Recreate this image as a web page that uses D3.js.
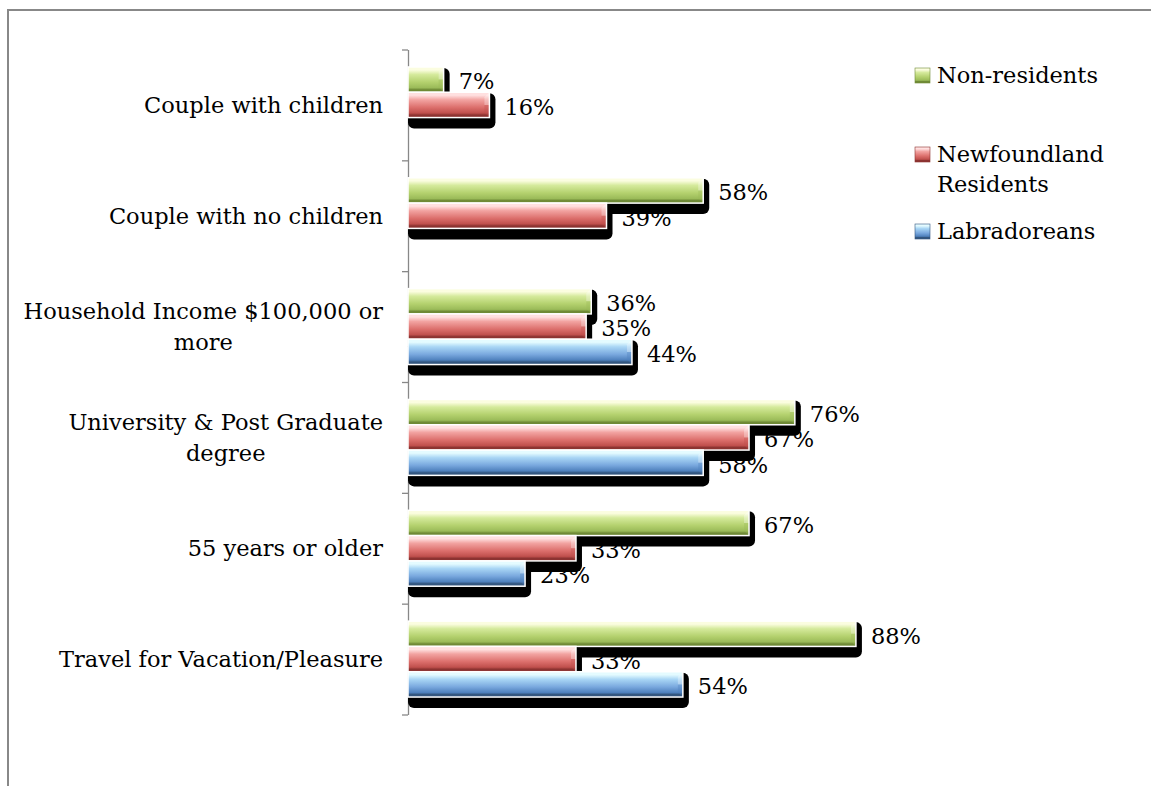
<!DOCTYPE html>
<html>
<head>
<meta charset="utf-8">
<script src="https://cdn.jsdelivr.net/npm/d3@7"></script>
<style>
  html, body { margin: 0; padding: 0; background: #fff; }
  svg { display: block; }
  text { font-family: "DejaVu Serif", "Liberation Serif", serif; fill: #000; }
</style>
</head>
<body>
<svg id="chart" width="1151" height="786"></svg>
<script>
// Traveller profile shares by group (percent)
const categories = [
  "Couple with children",
  "Couple with no children",
  "Household Income $100,000 or more",
  "University & Post Graduate degree",
  "55 years or older",
  "Travel for Vacation/Pleasure"
];
const seriesNames = ["Non-residents", "Newfoundland Residents", "Labradoreans"];
const nonResidents          = [7, 58, 36, 76, 67, 88];
const newfoundlandResidents = [16, 39, 35, 67, 33, 33];
const labradoreans          = [null, null, 44, 58, 23, 54];
const seriesValues = [nonResidents, newfoundlandResidents, labradoreans];

const palettes = [
  { id: "g", top: "#fbfde0", light: "#d5ea9c", mid: "#b4d16e", base: "#9bbb59", dark: "#6f8a36" },
  { id: "r", top: "#ffe0e0", light: "#f2a3a1", mid: "#dc6f6c", base: "#c0504d", dark: "#8c3331" },
  { id: "b", top: "#e4fbff", light: "#a9d6f5", mid: "#79a8de", base: "#4f81bd", dark: "#33567f" }
];

const svg = d3.select("#chart");
const FONT = 22.5;

// Outer chart frame (only the top and left edges fall inside the view)
svg.append("path")
  .attr("d", "M8,790 L8,10 L1160,10")
  .attr("fill", "none").attr("stroke", "#888").attr("stroke-width", 2);

const defs = svg.append("defs");
palettes.forEach(p => {
  const g = defs.append("linearGradient").attr("id", "grad-" + p.id)
    .attr("x1", 0).attr("y1", 0).attr("x2", 0).attr("y2", 1);
  [[0, p.top], [0.12, p.top], [0.3, p.light], [0.6, p.mid], [0.82, p.base], [0.9, p.dark], [1, p.dark]]
    .forEach(([o, c]) => g.append("stop").attr("offset", o).attr("stop-color", c));
});

// Scales
const x = d3.scaleLinear().domain([0, 100]).range([408, 917]);
const y = d3.scaleBand().domain(categories).range([49.5, 714.5])
  .paddingInner(0.315).paddingOuter(0.1575);
const ySub = d3.scaleBand().domain(seriesNames).range([0, y.bandwidth()]);
const yEdge = d3.scaleLinear().domain([0, categories.length]).range([49.5, 714.5]);

// Flat list of bars
const bars = [];
categories.forEach((c, ci) => {
  seriesNames.forEach((s, si) => {
    const v = seriesValues[si][ci];
    if (v != null) bars.push({ cat: c, series: s, si, v });
  });
});

// Value labels sit underneath the bars and their shadows
svg.append("g").selectAll("text").data(bars).join("text")
  .attr("x", d => x(d.v) + 15)
  .attr("y", d => y(d.cat) + ySub(d.series) + ySub.bandwidth() / 2 + 2)
  .attr("dy", "0.35em")
  .attr("font-size", FONT)
  .text(d => d.v + "%");

// Axis with tick marks on the category boundaries
const axis = d3.axisLeft(yEdge).tickValues(d3.range(categories.length + 1))
  .tickFormat("").tickSize(6).tickSizeOuter(0);
const axisG = svg.append("g").attr("transform", "translate(408,0)").call(axis);
axisG.selectAll("path, line").attr("stroke", "#888").attr("stroke-width", 1.3);

// Bars: drop shadow, bevelled body, white rim
const barG = svg.append("g");
const bevel = 5;
bars.forEach(d => {
  const x0 = x(0), x1 = x(d.v);
  const y0 = y(d.cat) + ySub(d.series), h = ySub.bandwidth();
  const p = palettes[d.si];
  const g = barG.append("g");
  g.append("rect")
    .attr("x", x0).attr("y", y0 + 1)
    .attr("width", x1 - x0 + 6).attr("height", h + 10)
    .attr("rx", 6).attr("fill", "#000");
  g.append("rect")
    .attr("x", x0).attr("y", y0).attr("width", x1 - x0).attr("height", h)
    .attr("fill", `url(#grad-${p.id})`);
  // right-hand bevel facets
  g.append("path")
    .attr("d", `M${x1 - bevel},${y0 + bevel} L${x1},${y0} L${x1},${y0 + h / 2} L${x1 - bevel},${y0 + h / 2}Z`)
    .attr("fill", "#fff").attr("opacity", 0.3);
  g.append("path")
    .attr("d", `M${x1 - bevel},${y0 + h / 2} L${x1},${y0 + h / 2} L${x1},${y0 + h} L${x1 - bevel},${y0 + h - bevel}Z`)
    .attr("fill", p.base).attr("opacity", 0.35);
  g.append("rect")
    .attr("x", x0).attr("y", y0).attr("width", x1 - x0).attr("height", h)
    .attr("fill", "none").attr("stroke", "#fff").attr("stroke-width", 1.5);
});

// Category labels, wrapped and centred as a block that ends at the axis
const labelG = svg.append("g");
const maxWidth = 370, lineH = 31, labelRight = 383;
categories.forEach(c => {
  const words = c.split(" ");
  const probe = labelG.append("text").attr("font-size", FONT);
  const lines = [];
  let line = [];
  words.forEach(w => {
    const test = line.concat(w).join(" ");
    probe.text(test);
    if (probe.node().getComputedTextLength() > maxWidth && line.length) {
      lines.push(line.join(" "));
      line = [w];
    } else line.push(w);
  });
  lines.push(line.join(" "));
  const widths = lines.map(l => { probe.text(l); return probe.node().getComputedTextLength(); });
  probe.remove();
  const blockW = d3.max(widths);
  const cy = y(c) + y.bandwidth() / 2;
  const t = labelG.append("text").attr("font-size", FONT)
    .attr("text-anchor", "middle")
    .attr("x", labelRight - blockW / 2);
  lines.forEach((l, i) => {
    t.append("tspan").attr("x", labelRight - blockW / 2)
      .attr("y", cy + (i - (lines.length - 1) / 2) * lineH)
      .attr("dy", "0.35em").text(l);
  });
});

// Legend
const legendRows = [
  { name: "Non-residents", lines: ["Non-residents"], y: 75 },
  { name: "Newfoundland Residents", lines: ["Newfoundland", "Residents"], y: 154 },
  { name: "Labradoreans", lines: ["Labradoreans"], y: 231 }
];
const legend = svg.append("g");
legendRows.forEach((r, i) => {
  const p = palettes[i];
  legend.append("rect").attr("x", 915).attr("y", r.y - 7).attr("width", 15).attr("height", 15)
    .attr("fill", `url(#grad-${p.id})`).attr("stroke", p.dark).attr("stroke-width", 0.6);
  const t = legend.append("text").attr("font-size", FONT);
  r.lines.forEach((l, li) => {
    t.append("tspan").attr("x", 937).attr("y", r.y + li * 30).attr("dy", "0.35em").text(l);
  });
});
</script>
</body>
</html>
